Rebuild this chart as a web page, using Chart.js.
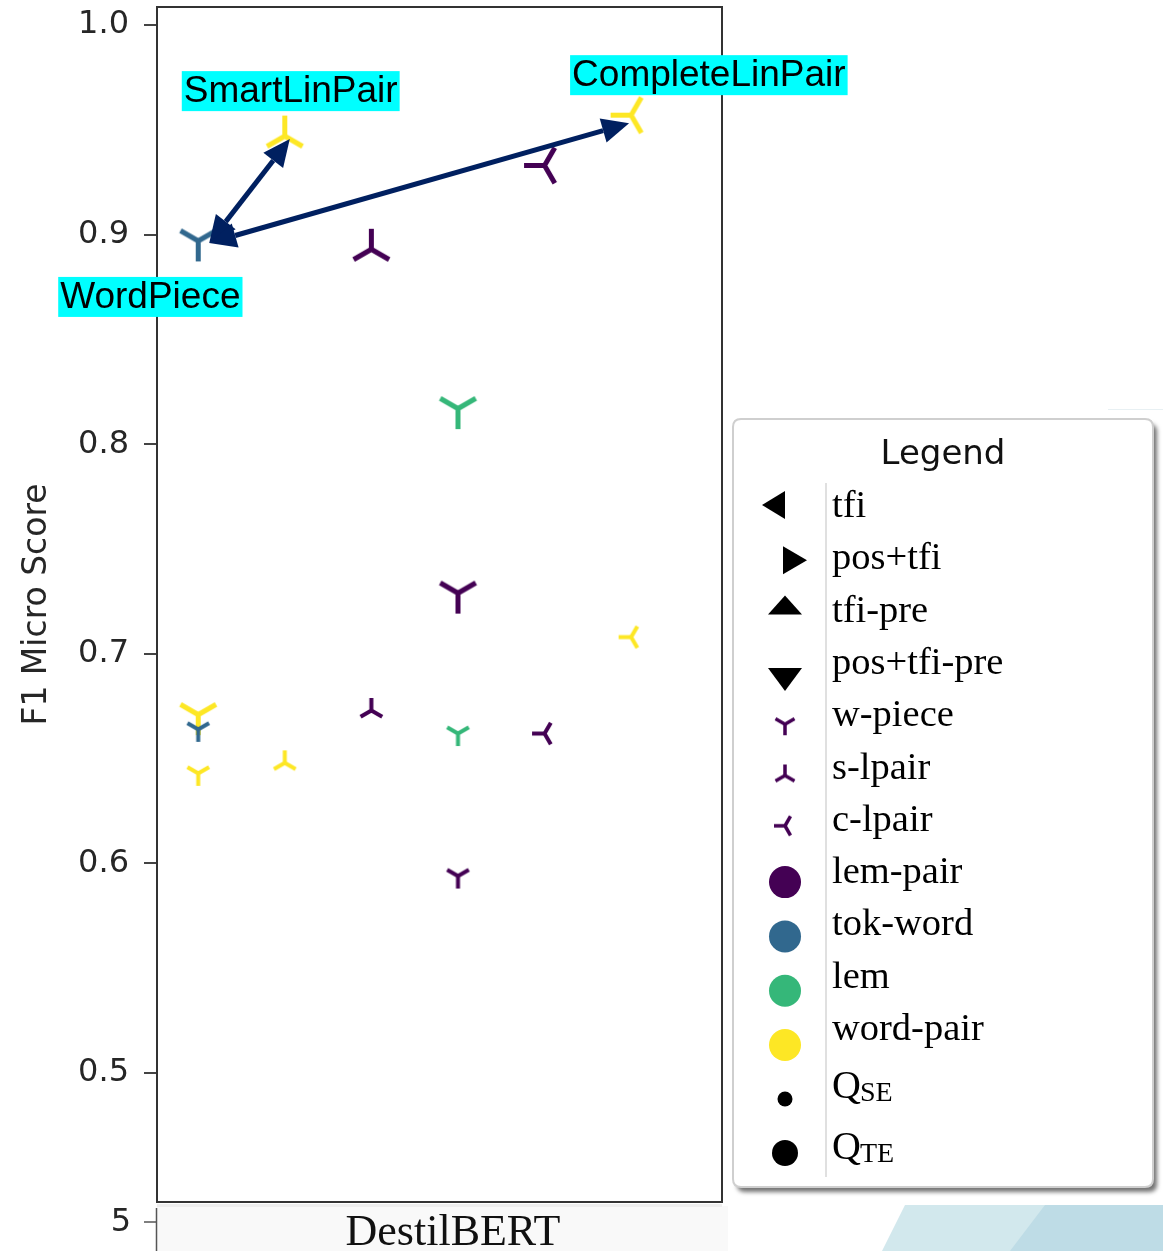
<!DOCTYPE html>
<html>
<head>
<meta charset="utf-8">
<script src="https://cdn.jsdelivr.net/npm/chart.js@4/dist/chart.umd.min.js"></script>
<style>
  html, body { margin: 0; padding: 0; background: #ffffff; }
  canvas { display: block; }
</style>
</head>
<body>
<canvas id="c" width="1163" height="1251"></canvas>
<script>
// ---- data -------------------------------------------------------------
// one entry per plotted configuration (DestilBERT runs)
const xSlot     = [0, 1, 2, 4, 5, 3, 3, 5, 3, 4, 3, 2, 0, 0, 0, 1];
const f1Micro   = [0.897, 0.947, 0.893, 0.933, 0.957, 0.817, 0.729, 0.708,
                   0.662, 0.662, 0.594, 0.673, 0.671, 0.664, 0.643, 0.648];
const tokenizer = ['w-piece', 's-lpair', 's-lpair', 'c-lpair', 'c-lpair', 'w-piece', 'w-piece', 'c-lpair',
                   'w-piece', 'c-lpair', 'w-piece', 's-lpair', 'w-piece', 'w-piece', 'w-piece', 's-lpair'];
const corpusKind = ['tok-word', 'word-pair', 'lem-pair', 'lem-pair', 'word-pair', 'lem', 'lem-pair', 'word-pair',
                    'lem', 'lem-pair', 'lem-pair', 'lem-pair', 'word-pair', 'tok-word', 'word-pair', 'word-pair'];
const quality   = ['QTE', 'QTE', 'QTE', 'QTE', 'QTE', 'QTE', 'QTE', 'QSE',
                   'QSE', 'QSE', 'QSE', 'QSE', 'QTE', 'QSE', 'QSE', 'QSE'];

const corpora    = ['lem-pair', 'tok-word', 'lem', 'word-pair'];
const yTicks     = [0.5, 0.6, 0.7, 0.8, 0.9, 1.0];
const modelName  = 'DestilBERT';
const extraTick  = '5';
const featureLabels = ['tfi', 'pos+tfi', 'tfi-pre', 'pos+tfi-pre'];
const tokenLabels   = ['w-piece', 's-lpair', 'c-lpair'];

// callouts: label text and the point each one names; arrows join two points
const calloutText  = ['SmartLinPair', 'CompleteLinPair', 'WordPiece'];
const calloutPoint = [1, 4, 0];
const arrowPairs   = [[0, 1], [0, 4]];

// ---- styling ----------------------------------------------------------
const corpusColor = {
  'lem-pair': '#440154',
  'tok-word': '#31688e',
  'lem': '#35b779',
  'word-pair': '#fde725'
};
const markerSize = { QTE: { r: 20.5, lw: 5 }, QSE: { r: 12.5, lw: 4 } };

const triDirs = {
  'w-piece': [[0, 1], [-0.866, -0.5], [0.866, -0.5]],   // "Y"
  's-lpair': [[0, -1], [-0.866, 0.5], [0.866, 0.5]],   // upside-down "Y"
  'c-lpair': [[-1, 0], [0.5, -0.866], [0.5, 0.866]]    // sideways "Y"
};

const markerCache = {};
function triMarker(kind, color, r, lw) {
  const key = [kind, color, r, lw].join('|');
  if (markerCache[key]) return markerCache[key];
  const pad = Math.ceil(lw) + 2;
  const size = Math.ceil(2 * r + 2 * pad);
  const c = document.createElement('canvas');
  c.width = size; c.height = size;
  const g = c.getContext('2d');
  const cx = size / 2, cy = size / 2;
  g.strokeStyle = color;
  g.lineWidth = lw;
  g.lineCap = 'butt';
  g.beginPath();
  for (const [dx, dy] of triDirs[kind]) {
    g.moveTo(cx, cy);
    g.lineTo(cx + dx * r, cy + dy * r);
  }
  g.stroke();
  g.fillStyle = color;
  g.beginPath(); g.arc(cx, cy, lw / 2, 0, Math.PI * 2); g.fill();
  markerCache[key] = c;
  return c;
}

// ---- datasets (one per corpus variant, drawn purple -> yellow) --------
const datasets = corpora.map(corpus => {
  const pts = [];
  for (let i = 0; i < f1Micro.length; i++) {
    if (corpusKind[i] !== corpus) continue;
    pts.push({ x: xSlot[i], y: f1Micro[i], tok: tokenizer[i], q: quality[i] });
  }
  return {
    label: corpus,
    data: pts,
    pointRadius: 12,
    pointStyle: ctx => {
      const p = ctx.raw;
      if (!p) return 'circle';
      const s = markerSize[p.q];
      return triMarker(p.tok, corpusColor[corpus], s.r, s.lw);
    }
  };
});

// ---- plugins ------------------------------------------------------------
const framePlugin = {
  id: 'frame',
  beforeDatasetsDraw(chart) {
    const { ctx, chartArea: a } = chart;
    ctx.save();
    ctx.strokeStyle = '#333333';
    ctx.lineWidth = 2;
    ctx.strokeRect(a.left, a.top, a.right - a.left, a.bottom - a.top);
    ctx.restore();
  }
};

function pointPixel(chart, i) {
  return {
    x: chart.scales.x.getPixelForValue(xSlot[i]),
    y: chart.scales.y.getPixelForValue(f1Micro[i])
  };
}

function arrowHead(ctx, tip, from, len, width) {
  const ang = Math.atan2(tip.y - from.y, tip.x - from.x);
  const bx = tip.x - Math.cos(ang) * len, by = tip.y - Math.sin(ang) * len;
  const nx = -Math.sin(ang) * width / 2, ny = Math.cos(ang) * width / 2;
  ctx.beginPath();
  ctx.moveTo(tip.x, tip.y);
  ctx.lineTo(bx + nx, by + ny);
  ctx.lineTo(bx - nx, by - ny);
  ctx.closePath();
  ctx.fill();
  return { x: bx, y: by };
}

const calloutPlugin = {
  id: 'callouts',
  afterDatasetsDraw(chart, args, opts) {
    const ctx = chart.ctx;
    ctx.save();
    // double-headed arrows between the named points
    ctx.strokeStyle = opts.arrowColor;
    ctx.fillStyle = opts.arrowColor;
    ctx.lineWidth = opts.arrowWidth;
    arrowPairs.forEach(([a, b]) => {
      const pa = pointPixel(chart, a), pb = pointPixel(chart, b);
      const oa = opts.tipOffset[a], ob = opts.tipOffset[b];
      const ta = { x: pa.x + oa[0], y: pa.y + oa[1] };
      const tb = { x: pb.x + ob[0], y: pb.y + ob[1] };
      const ba = arrowHead(ctx, ta, tb, opts.headLength, opts.headWidth);
      const bb = arrowHead(ctx, tb, ta, opts.headLength, opts.headWidth);
      ctx.beginPath();
      ctx.moveTo(ba.x, ba.y);
      ctx.lineTo(bb.x, bb.y);
      ctx.stroke();
    });
    // highlighted labels
    ctx.font = opts.font;
    ctx.textBaseline = 'middle';
    ctx.textAlign = 'left';
    calloutText.forEach((txt, k) => {
      const p = pointPixel(chart, calloutPoint[k]);
      const off = opts.labelOffset[k];
      const w = ctx.measureText(txt).width + 4;
      const h = opts.boxHeight;
      const left = p.x + off[0], top = p.y + off[1];
      ctx.fillStyle = opts.boxColor;
      ctx.fillRect(left, top, w, h);
      ctx.fillStyle = '#000000';
      ctx.fillText(txt, left + 2, top + h / 2 + 1);
    });
    ctx.restore();
  }
};

function roundRectPath(ctx, x, y, w, h, r) {
  ctx.beginPath();
  ctx.moveTo(x + r, y);
  ctx.lineTo(x + w - r, y);
  ctx.quadraticCurveTo(x + w, y, x + w, y + r);
  ctx.lineTo(x + w, y + h - r);
  ctx.quadraticCurveTo(x + w, y + h, x + w - r, y + h);
  ctx.lineTo(x + r, y + h);
  ctx.quadraticCurveTo(x, y + h, x, y + h - r);
  ctx.lineTo(x, y + r);
  ctx.quadraticCurveTo(x, y, x + r, y);
  ctx.closePath();
}

const legendPlugin = {
  id: 'sideLegend',
  afterDraw(chart, args, o) {
    const ctx = chart.ctx;
    ctx.save();
    // box with drop shadow
    ctx.shadowColor = 'rgba(0,0,0,0.55)';
    ctx.shadowOffsetX = 4;
    ctx.shadowOffsetY = 5;
    ctx.shadowBlur = 4;
    ctx.fillStyle = '#ffffff';
    roundRectPath(ctx, o.left, o.top, o.width, o.height, 8);
    ctx.fill();
    ctx.shadowColor = 'transparent';
    ctx.strokeStyle = '#cfcfcf';
    ctx.lineWidth = 2;
    roundRectPath(ctx, o.left, o.top, o.width, o.height, 8);
    ctx.stroke();

    // title
    ctx.fillStyle = '#111111';
    ctx.font = "34px 'DejaVu Sans'";
    ctx.textAlign = 'center';
    ctx.textBaseline = 'alphabetic';
    ctx.fillText('Legend', 943, o.top + 45);

    // separator between markers and labels
    ctx.strokeStyle = '#d6d6d6';
    ctx.lineWidth = 1.5;
    ctx.beginPath();
    ctx.moveTo(o.sepX, o.top + 64);
    ctx.lineTo(o.sepX, o.top + o.height - 10);
    ctx.stroke();

    const mx = o.markerX, tx = o.textX;
    const base = k => o.firstBaseline + k * o.rowStep;
    ctx.textAlign = 'left';
    ctx.font = "38.5px 'Liberation Serif'";
    ctx.fillStyle = '#000000';

    // feature-set rows: black triangles
    const tri = [
      [[-12, 0], [11, -14], [11, 14]],    // pointing left
      [[12, 0], [-12, -14], [-12, 14]],   // pointing right
      [[0, -10], [-17, 9], [17, 9]],      // pointing up
      [[0, 12], [-17, -11], [17, -11]]    // pointing down
    ];
    const triCenter = [[-11, -12], [10, -9], [0, -16], [0, 5]];
    featureLabels.forEach((lab, k) => {
      const cx = mx + triCenter[k][0], cy = base(k) + triCenter[k][1];
      ctx.beginPath();
      tri[k].forEach(([dx, dy], j) => j ? ctx.lineTo(cx + dx, cy + dy) : ctx.moveTo(cx + dx, cy + dy));
      ctx.closePath();
      ctx.fill();
      ctx.fillText(lab, tx, base(k));
    });

    // tokenizer rows
    const tokDy = [-2, -3, -5];
    tokenLabels.forEach((lab, j) => {
      const k = 4 + j;
      const img = triMarker(lab, '#440154', 11, 3.5);
      ctx.drawImage(img, mx - img.width / 2, base(k) + tokDy[j] - img.height / 2);
      ctx.fillStyle = '#000000';
      ctx.fillText(lab, tx, base(k));
    });

    // corpus rows: coloured discs
    const corpDy = [-1, 1, 3, 5];
    corpora.forEach((lab, j) => {
      const k = 7 + j;
      ctx.fillStyle = corpusColor[lab];
      ctx.beginPath(); ctx.arc(mx, base(k) + corpDy[j], 16, 0, Math.PI * 2); ctx.fill();
      ctx.fillStyle = '#000000';
      ctx.fillText(lab, tx, base(k));
    });

    // quality rows: disc size encodes the marker size
    const qRows = [['Q', 'SE', 7.5, o.qBaselines[0], 1], ['Q', 'TE', 13, o.qBaselines[1], -6]];
    qRows.forEach(([q, sub, r, bl, dy]) => {
      ctx.fillStyle = '#000000';
      ctx.beginPath(); ctx.arc(mx, bl + dy, r, 0, Math.PI * 2); ctx.fill();
      ctx.font = "40px 'Liberation Serif'";
      ctx.fillText(q, tx, bl);
      const qw = ctx.measureText(q).width;
      ctx.font = "28px 'Liberation Serif'";
      ctx.fillText(sub, tx + qw - 1, bl + 3);
    });
    ctx.restore();
  }
};

const footerPlugin = {
  id: 'footer',
  afterDraw(chart) {
    const ctx = chart.ctx;
    const a = chart.chartArea;
    const H = chart.height, W = chart.width;
    ctx.save();
    // strip under the plot frame
    ctx.fillStyle = '#f9f9f9';
    ctx.fillRect(a.left, a.bottom + 4, a.right - a.left + 6, H - a.bottom - 4);
    ctx.fillStyle = '#eeeeee';
    ctx.fillRect(a.left, a.bottom + 2, a.right - a.left, 3);

    // continuation of the value axis below the frame
    ctx.strokeStyle = '#555555';
    ctx.lineWidth = 1.5;
    ctx.beginPath();
    ctx.moveTo(a.left - 0.5, a.bottom + 6);
    ctx.lineTo(a.left - 0.5, H);
    ctx.moveTo(a.left - 13, a.bottom + 20);
    ctx.lineTo(a.left, a.bottom + 20);
    ctx.stroke();
    ctx.fillStyle = '#262626';
    ctx.font = "32px 'DejaVu Sans'";
    ctx.textAlign = 'right';
    ctx.textBaseline = 'middle';
    ctx.fillText(extraTick, a.left - 26, a.bottom + 21);

    // model name
    ctx.fillStyle = '#111111';
    ctx.font = "44px 'Liberation Serif'";
    ctx.textAlign = 'center';
    ctx.textBaseline = 'alphabetic';
    ctx.fillText(modelName, 453, H - 6);

    // slide decoration in the lower right corner
    ctx.fillStyle = '#d2e8ed';
    ctx.beginPath();
    ctx.moveTo(905, H - 46); ctx.lineTo(W, H - 46); ctx.lineTo(W, H); ctx.lineTo(882, H);
    ctx.closePath(); ctx.fill();
    ctx.fillStyle = '#bedce6';
    ctx.beginPath();
    ctx.moveTo(1045, H - 46); ctx.lineTo(W, H - 46); ctx.lineTo(W, H); ctx.lineTo(1010, H);
    ctx.closePath(); ctx.fill();
    ctx.strokeStyle = '#e8f0f3';
    ctx.lineWidth = 1;
    ctx.beginPath(); ctx.moveTo(1108, 409.5); ctx.lineTo(W, 409.5); ctx.stroke();
    ctx.restore();
  }
};

// ---- chart ------------------------------------------------------------
new Chart(document.getElementById('c'), {
  type: 'scatter',
  data: { datasets },
  options: {
    responsive: false,
    animation: false,
    devicePixelRatio: 1,
    layout: { autoPadding: false, padding: { left: 0, top: 7, right: 441, bottom: 49 } },
    scales: {
      x: {
        type: 'linear',
        min: -0.476,
        max: 6.05,
        display: false
      },
      y: {
        type: 'linear',
        min: 0.4385,
        max: 1.0086,
        afterBuildTicks: s => { s.ticks = yTicks.map(v => ({ value: v })); },
        afterFit: s => { s.width = 157; s.paddingTop = 0; s.paddingBottom = 0; },
        ticks: {
          font: { family: 'DejaVu Sans', size: 32 },
          color: '#262626',
          padding: 15,
          callback: v => Number(v).toFixed(1)
        },
        grid: { drawOnChartArea: false, drawTicks: true, tickLength: 13, color: '#444444', lineWidth: 2 },
        border: { display: true, color: '#333333', width: 2 },
        title: {
          display: true,
          text: 'F1 Micro Score',
          font: { family: 'DejaVu Sans', size: 33 },
          color: '#262626',
          padding: { top: 18, bottom: 0 }
        }
      }
    },
    plugins: {
      legend: { display: false },
      tooltip: { enabled: false },
      callouts: {
        arrowColor: '#002060',
        arrowWidth: 5,
        headLength: 27,
        headWidth: 25,
        tipOffset: { 0: [11, 2], 1: [5, 3], 4: [-2, 8] },
        labelOffset: [[-103, -65], [-61, -60], [-140, 36]],
        font: "37px 'Liberation Sans'",
        boxColor: '#00ffff',
        boxHeight: 40
      },
      sideLegend: {
        left: 733, top: 419, width: 420, height: 768,
        sepX: 826, markerX: 785, textX: 832,
        firstBaseline: 517, rowStep: 52.3,
        qBaselines: [1098, 1159]
      }
    }
  },
  plugins: [framePlugin, calloutPlugin, legendPlugin, footerPlugin]
});
</script>
</body>
</html>
